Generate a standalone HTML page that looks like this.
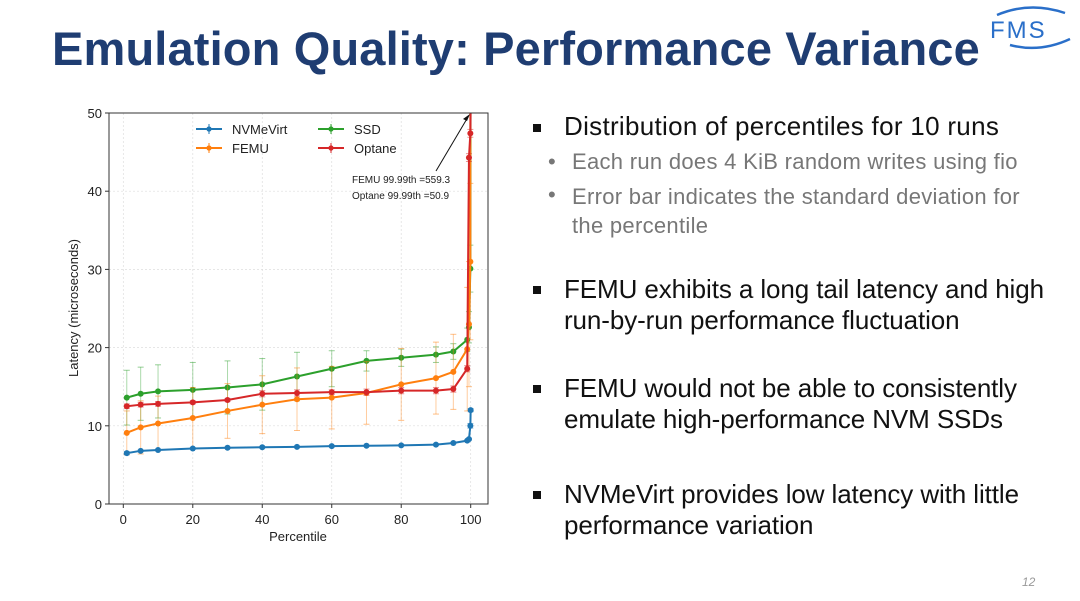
<!DOCTYPE html>
<html><head><meta charset="utf-8"><style>
body{margin:0;width:1080px;height:601px;background:#fff;overflow:hidden;position:relative;font-family:"Liberation Sans",sans-serif}
.t{position:absolute;white-space:nowrap}
h1{position:absolute;left:52px;top:21px;margin:0;font-size:47px;font-weight:bold;color:#1f3d72;letter-spacing:0.15px}
.b{font-size:26px;color:#111;left:564px;letter-spacing:-0.1px}
.bm{position:absolute;left:533px;width:8px;height:8px;background:#111}
.s{font-size:22px;color:#777;left:572px;letter-spacing:0.3px}
</style></head><body>
<h1>Emulation Quality: Performance Variance</h1>
<svg style="position:absolute;left:985px;top:5px" width="95" height="45" viewBox="0 0 95 45">
<path d="M12 10 Q45 -4 80 8" stroke="#2a6fc9" stroke-width="2.5" fill="none"/>
<path d="M25 40 Q55 48 85 34" stroke="#2a6fc9" stroke-width="2.5" fill="none"/>
<text x="5" y="33" font-size="24" fill="#2a6fc9" font-family="Liberation Sans" letter-spacing="2">FMS</text>
</svg>
<svg id="chart" style="position:absolute;left:0;top:0" width="520" height="560"></svg>

<div class="bm" style="top:124px"></div>
<div class="t b" style="top:111px;letter-spacing:0.3px">Distribution of percentiles for 10 runs</div>
<div class="t s" style="top:149px;left:548px">•</div>
<div class="t s" style="top:149px">Each run does 4 KiB random writes using fio</div>
<div class="t s" style="top:182px;left:548px">•</div>
<div class="t s" style="top:182px;line-height:29px">Error bar indicates the standard deviation for<br>the percentile</div>
<div class="bm" style="top:286px"></div>
<div class="t b" style="top:274px;line-height:31px">FEMU exhibits a long tail latency and high<br>run-by-run performance fluctuation</div>
<div class="bm" style="top:385px"></div>
<div class="t b" style="top:373px;line-height:31px">FEMU would not be able to consistently<br>emulate high-performance NVM SSDs</div>
<div class="bm" style="top:491px"></div>
<div class="t b" style="top:479px;line-height:31px">NVMeVirt provides low latency with little<br>performance variation</div>
<div class="t" style="left:1022px;top:575px;font-size:12px;color:#999;font-style:italic">12</div>

<script>
const percentiles=[1,5,10,20,30,40,50,60,70,80,90,95,99,99.5,99.9,99.99];
const nvmevirt=[6.5,6.8,6.9,7.1,7.2,7.25,7.3,7.4,7.45,7.5,7.6,7.8,8.1,8.3,10.0,12.0];
const nvmevirtErr=[0.2,0.1,0.1,0.1,0.1,0.1,0.1,0.1,0.1,0.1,0.1,0.1,0.1,0.1,0.3,0.2];
const ssd=[13.6,14.1,14.4,14.6,14.9,15.3,16.3,17.3,18.3,18.7,19.1,19.5,21.0,22.6,30.1,60];
const ssdErr=[3.5,3.4,3.4,3.5,3.4,3.3,3.1,2.3,1.3,1.1,1.0,1.0,1.5,2,3,5];
const femu=[9.1,9.8,10.3,11.0,11.9,12.7,13.4,13.6,14.2,15.3,16.1,16.9,19.8,23,31,559.3];
const femuErr=[2.8,3.4,3.5,3.9,3.5,3.7,4.0,4.0,4.0,4.6,4.6,4.8,7.9,8,10,20];
const optane=[12.5,12.7,12.8,13.0,13.3,14.1,14.2,14.3,14.3,14.5,14.5,14.7,17.3,44.3,47.4,50.9];
const optaneErr=[0.3,0.3,0.3,0.2,0.2,0.4,0.4,0.3,0.4,0.4,0.4,0.4,0.4,0.5,0.5,0.5];
const yTicks=[0,10,20,30,40,50];
const xTicks=[0,20,40,60,80,100];

const NS="http://www.w3.org/2000/svg";
const svg=document.getElementById('chart');
const L=109,R=488,T=113,B=504;
const xs=v=>123.3+v*3.474;
const ys=v=>B-v*(B-T)/50;
function mk(tag,a,parent){const e=document.createElementNS(NS,tag);for(const k in a)e.setAttribute(k,a[k]);(parent||svg).appendChild(e);return e;}
const clip=mk('clipPath',{id:'pc'});mk('rect',{x:L,y:T,width:R-L,height:B-T},clip);
yTicks.forEach(v=>{
 const g=mk('line',{x1:L,x2:R,y1:ys(v),y2:ys(v),stroke:'#ddd','stroke-width':0.7,'stroke-dasharray':'2,2'});
 
 mk('line',{x1:L-4,x2:L,y1:ys(v),y2:ys(v),stroke:'#333'});
 const t=mk('text',{x:L-7,y:ys(v)+5,'text-anchor':'end','font-size':13,fill:'#222'});t.textContent=v;
 
});
xTicks.forEach(v=>{
 const g=mk('line',{x1:xs(v),x2:xs(v),y1:T,y2:B,stroke:'#ddd','stroke-width':0.7,'stroke-dasharray':'2,2'});
 
 mk('line',{x1:xs(v),x2:xs(v),y1:B,y2:B+4,stroke:'#333'});
 const t=mk('text',{x:xs(v),y:B+20,'text-anchor':'middle','font-size':13,fill:'#222'});t.textContent=v;
 
});
const series=[
 {name:'ssd',vals:ssd,err:ssdErr,c:'#2ca02c'},
 {name:'femu',vals:femu,err:femuErr,c:'#ff7f0e'},
 {name:'optane',vals:optane,err:optaneErr,c:'#d62728'},
 {name:'nvmevirt',vals:nvmevirt,err:nvmevirtErr,c:'#1f77b4'}];
series.forEach(s=>{
 const g=mk('g',{'clip-path':'url(#pc)'});
 
 s.vals.forEach((v,i)=>{
  const x=xs(percentiles[i]),y1=ys(v-s.err[i]),y2=ys(v+s.err[i]);
  mk('line',{x1:x,x2:x,y1:y1,y2:y2,stroke:s.c,'stroke-opacity':0.4,'stroke-width':1},g);
  mk('line',{x1:x-3,x2:x+3,y1:y1,y2:y1,stroke:s.c,'stroke-opacity':0.5},g);
  mk('line',{x1:x-3,x2:x+3,y1:y2,y2:y2,stroke:s.c,'stroke-opacity':0.5},g);
 });
 const p=mk('polyline',{points:s.vals.map((v,i)=>xs(percentiles[i])+','+ys(v)).join(' '),fill:'none',stroke:s.c,'stroke-width':2},g);
 
 s.vals.forEach((v,i)=>{const c=mk('circle',{cx:xs(percentiles[i]),cy:ys(v),r:3,fill:s.c},g);
  });
});
mk('rect',{x:L,y:T,width:R-L,height:B-T,fill:'none',stroke:'#333','stroke-width':1});
mk('line',{x1:436,y1:171,x2:468,y2:117,stroke:'#111','stroke-width':1});
mk('path',{d:'M470 114 L463 119 L467 121 Z',fill:'#111'});
[['FEMU 99.99th =559.3',183],['Optane 99.99th =50.9',199]].forEach(a=>{
 const t=mk('text',{x:352,y:a[1],'font-size':10,fill:'#222'});t.textContent=a[0];
 });
const leg=[['NVMeVirt','#1f77b4',196,129],['FEMU','#ff7f0e',196,148],['SSD','#2ca02c',318,129],['Optane','#d62728',318,148]];
leg.forEach(l=>{
 const g=mk('g',{});
 mk('line',{x1:l[2],x2:l[2]+26,y1:l[3],y2:l[3],stroke:l[1],'stroke-width':2},g);
 mk('line',{x1:l[2]+13,x2:l[2]+13,y1:l[3]-5,y2:l[3]+5,stroke:l[1]},g);
 mk('circle',{cx:l[2]+13,cy:l[3],r:2.6,fill:l[1]},g);
 const t=mk('text',{x:l[2]+36,y:l[3]+5,'font-size':13,fill:'#222'},g);t.textContent=l[0];
});
const xl=mk('text',{x:298,y:541,'text-anchor':'middle','font-size':13,fill:'#222'});xl.textContent='Percentile';

const yl=mk('text',{x:0,y:0,'text-anchor':'middle','font-size':13,fill:'#222',transform:'translate(78,308) rotate(-90)'});yl.textContent='Latency (microseconds)';

</script>
</body></html>
